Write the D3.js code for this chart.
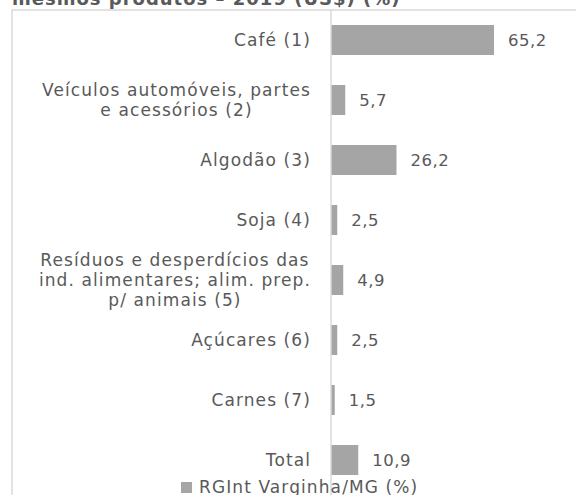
<!DOCTYPE html>
<html>
<head>
<meta charset="utf-8">
<script src="https://cdn.jsdelivr.net/npm/d3@7"></script>
<style>
  body { margin: 0; background: #fff; }
  text { font-family: "DejaVu Sans", Verdana, sans-serif; fill: #595959; }
</style>
</head>
<body>
<div id="chart"></div>
<script>
// data
var categories = [
  "Café (1)",
  "Veículos automóveis, partes|e acessórios (2)",
  "Algodão (3)",
  "Soja (4)",
  "Resíduos e desperdícios das|ind. alimentares; alim. prep.|p/ animais (5)",
  "Açúcares (6)",
  "Carnes (7)",
  "Total"
];
var values = [65.2, 5.7, 26.2, 2.5, 4.9, 2.5, 1.5, 10.9];
var valueLabels = ["65,2", "5,7", "26,2", "2,5", "4,9", "2,5", "1,5", "10,9"];
var seriesName = "RGInt Varginha/MG (%)";
var title = "mesmos produtos – 2019 (US$) (%)";

var W = 576, H = 495;
var axisX = 331, labelRight = 311;

var svg = d3.select("#chart")
  .append("svg")
    .attr("width", W)
    .attr("height", H);

// title (cut off at the top like the source)
svg.append("text")
  .attr("x", 12)
  .attr("y", 5)
  .attr("font-size", "18px")
  .attr("font-weight", "bold")
  .attr("letter-spacing", "1px")
  .text(title);

// chart area border
svg.append("path")
  .attr("d", "M12," + H + "V10H" + W)
  .attr("fill", "none")
  .attr("stroke", "#d9d9d9")
  .attr("stroke-width", 1.5);

var data = categories.map(function(c, i) {
  return {cat: c, value: values[i], label: valueLabels[i]};
});

var y = d3.scaleBand()
  .domain(categories)
  .range([10, 490])
  .paddingInner(0.5)
  .paddingOuter(0.25);

var x = d3.scaleLinear()
  .domain([0, 65.2])
  .range([axisX, 494]);

// bars
svg.selectAll("rect.bar")
  .data(data)
  .enter()
  .append("rect")
    .attr("class", "bar")
    .attr("x", x(0))
    .attr("y", function(d) { return y(d.cat); })
    .attr("width", function(d) { return x(d.value) - x(0); })
    .attr("height", y.bandwidth())
    .attr("fill", "#a5a5a5");

// vertical axis line
svg.append("line")
  .attr("x1", axisX).attr("x2", axisX)
  .attr("y1", 10).attr("y2", H)
  .attr("stroke", "#d9d9d9")
  .attr("stroke-width", 1.5);

// value labels
svg.selectAll("text.val")
  .data(data)
  .enter()
  .append("text")
    .attr("class", "val")
    .attr("x", function(d) { return x(d.value) + 14; })
    .attr("y", function(d) { return y(d.cat) + y.bandwidth() / 2; })
    .attr("dy", "0.35em")
    .attr("font-size", "16.5px")
    .attr("letter-spacing", "0.5px")
    .text(function(d) { return d.label; });

// category labels: block right aligned, lines centred in block
data.forEach(function(d) {
  var lines = d.cat.split("|");
  var cy = y(d.cat) + y.bandwidth() / 2;
  var g = svg.append("g");
  var texts = lines.map(function(l, i) {
    return g.append("text")
      .attr("y", cy + (i - (lines.length - 1) / 2) * 20)
      .attr("dy", "0.35em")
      .attr("font-size", "17px")
      .attr("letter-spacing", "1.1px")
      .attr("text-anchor", "middle")
      .text(l);
  });
  var maxW = d3.max(texts, function(t) { return t.node().getComputedTextLength(); });
  texts.forEach(function(t) { t.attr("x", labelRight - maxW / 2); });
});

// legend
var legend = svg.append("g");
legend.append("rect")
  .attr("x", 181).attr("y", 482)
  .attr("width", 11).attr("height", 11)
  .attr("fill", "#a5a5a5");
legend.append("text")
  .attr("x", 199)
  .attr("y", 487)
  .attr("dy", "0.35em")
  .attr("font-size", "17px")
  .attr("letter-spacing", "1.1px")
  .text(seriesName);
</script>
</body>
</html>
